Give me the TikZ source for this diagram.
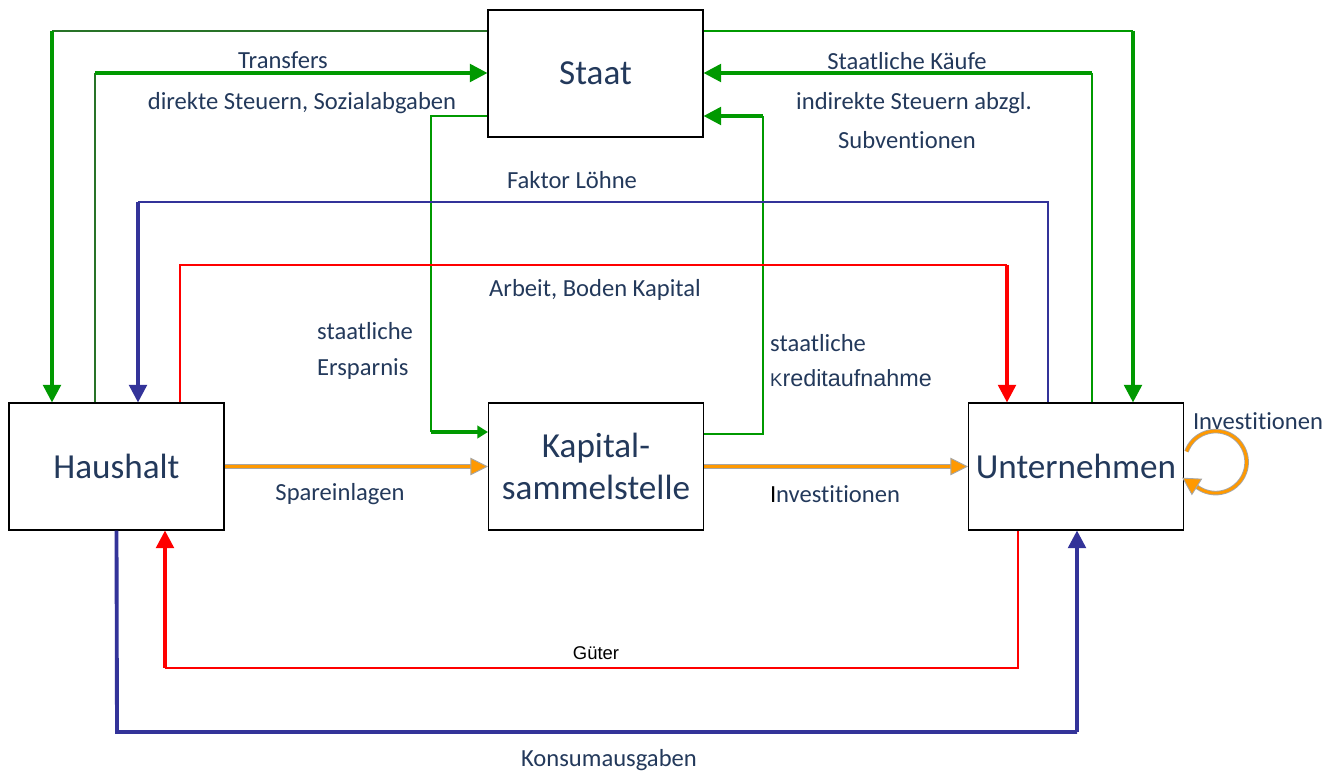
\documentclass[tikz,border=0pt]{standalone}
\usepackage{fontspec}
\setmainfont{Carlito}[Ligatures=NoCommon, Contextuals=NoAlternate]
\newfontfamily\arialfont{Liberation Sans}
\usetikzlibrary{arrows.meta,positioning,calc}

\definecolor{schrift}{RGB}{35,57,91}
\definecolor{gruen}{RGB}{0,153,0}
\definecolor{dunkelgruen}{RGB}{40,115,40}
\definecolor{blau}{RGB}{51,51,153}
\definecolor{rot}{RGB}{255,0,0}
\definecolor{sparorange}{RGB}{255,153,0}

\begin{document}
\begin{tikzpicture}[x=0.02cm,y=-0.02cm]
  \tikzset{box/.style={draw, line width=0.6pt, minimum width=4.3cm, minimum height=2.54cm, font=\fontsize{20}{24}\selectfont, text=schrift, align=center}}
  \tikzset{beschr/.style={font=\fontsize{14}{20}\selectfont, text=schrift}}
  \tikzset{duenn/.style={draw, line width=0.6pt}}
  \tikzset{dick/.style={draw, line width=2pt, -{Triangle[length=10pt,width=10pt]}}}
  \tikzset{strom/.style={draw=gray!70, line width=0.5pt, double=sparorange, double distance=1.6pt, -{Triangle[length=10pt,width=10pt,fill=sparorange,color=gray!70,line width=0.5pt]}}}
  \useasboundingbox (0,0) rectangle (1340,773);

  % Sektoren
  \node[box] (staat) at (595.5,73.5) {Staat};
  \node[box] (haushalt) at (116.5,466.5) {Haushalt};
  \node[box] (kapital) at (596,466.5) {Kapital-\\sammelstelle};
  \node[box] (unternehmen) at (1076,466.5) {Unternehmen};

  % Knickpunkte
  \coordinate (st) at (52,31);
  \coordinate (tr) at (95,73);
  \coordinate (sk) at (1133,31);
  \coordinate (kf) at (1092,73);
  \coordinate (ka1) at (763,434);
  \coordinate (ka2) at (763,116);
  \coordinate (se1) at (431,116);
  \coordinate (se2) at (431,432);
  \coordinate (fl1) at (1048,202);
  \coordinate (fl2) at (138,202);
  \coordinate (ab1) at (180,265);
  \coordinate (ab2) at (1007,265);
  \coordinate (gu1) at (1018,668);
  \coordinate (gu2) at (165,668);
  \coordinate (ko1) at (117,732);
  \coordinate (ko2) at (1077,732);

  % Staat <-> Haushalt
  \draw[duenn, dunkelgruen] (staat.west |- st) -- (st);
  \draw[dick, gruen] (st) -- (st |- haushalt.north);
  \draw[duenn, dunkelgruen] (tr |- haushalt.north) -- (tr);
  \draw[dick, gruen] (tr) -- (staat.west |- tr);

  % Staat <-> Unternehmen
  \draw[duenn, gruen] (staat.east |- sk) -- (sk);
  \draw[dick, gruen] (sk) -- (sk |- unternehmen.north);
  \draw[duenn, gruen] (kf |- unternehmen.north) -- (kf);
  \draw[dick, gruen] (kf) -- (staat.east |- kf);

  % Staat <-> Kapitalsammelstelle
  \draw[duenn, gruen] (kapital.east |- ka1) -- (ka1) -- (ka2);
  \draw[dick, gruen] (ka2) -- (staat.east |- ka2);
  \draw[duenn, gruen] (staat.west |- se1) -- (se1) -- (se2);
  \draw[dick, gruen, -{Triangle[length=6pt,width=7pt]}] (se2) -- (kapital.west |- se2);

  % Faktormarkt
  \draw[duenn, blau] (fl1 |- unternehmen.north) -- (fl1) -- (fl2);
  \draw[dick, blau] (fl2) -- (fl2 |- haushalt.north);
  \draw[duenn, rot] (ab1 |- haushalt.north) -- (ab1) -- (ab2);
  \draw[dick, rot] (ab2) -- (ab2 |- unternehmen.north);

  % Sparen und Investieren
  \draw[strom] (haushalt.east) -- (kapital.west);
  \draw[strom] (kapital.east) -- (unternehmen.west);
  \draw[strom, -{Triangle[length=10pt,width=11pt,fill=sparorange,color=gray!70,line width=0.5pt]}]
    ([shift={(0.05cm,0.3cm)}]unternehmen.east)
    arc[start angle=160, end angle=-125, radius=0.62cm] -- ++(148:0.37cm);

  % Gütermarkt
  \draw[duenn, rot] (gu1 |- unternehmen.south) -- (gu1) -- (gu2);
  \draw[dick, rot] (gu2) -- (gu2 |- haushalt.south);
  \draw[line width=2.2pt, blau] (haushalt.south) -- (ko1) -- (ko2);
  \draw[dick, blau] (ko2) -- (ko2 |- unternehmen.south);

  % Beschriftungen
  \node[beschr] (l-transfers) at (283,60) {Transfers};
  \node[beschr] (l-steuern) at (302,103) {direkte Steuern, Sozialabgaben};
  \node[beschr] (l-kaeufe) at (907,61) {Staatliche Käufe};
  \node[beschr] (l-indirekt) at (914,103) {indirekte Steuern abzgl.};
  \node[beschr] (l-subv) at (907,140) {Subventionen};
  \node[beschr] (l-loehne) at (572,180) {Faktor Löhne};
  \node[beschr] (l-arbeit) at (595,290) {Arbeit, Boden Kapital};
  \node[beschr, align=left, anchor=west] (l-ersparnis) at (311,351) {staatliche\\Ersparnis};
  \node[beschr, align=left, anchor=west] (l-kredit) at (764,361) {staatliche\\{\arialfont\fontsize{13.3}{20}\selectfont{\fontsize{10.5}{10}\selectfont K}reditaufnahme}};
  \node[beschr] (l-spar) at (340,494) {Spareinlagen};
  \node[beschr] (l-inv) at (835,494) {{\color{black}I}nvestitionen};
  \node[beschr] (l-inv2) at (1258,421) {Investitionen};
  \node[font=\arialfont\fontsize{10.5}{12}\selectfont] (l-gueter) at (596,653) {Güter};
  \node[beschr] (l-konsum) at (609,760) {Konsumausgaben};
\end{tikzpicture}
\end{document}
